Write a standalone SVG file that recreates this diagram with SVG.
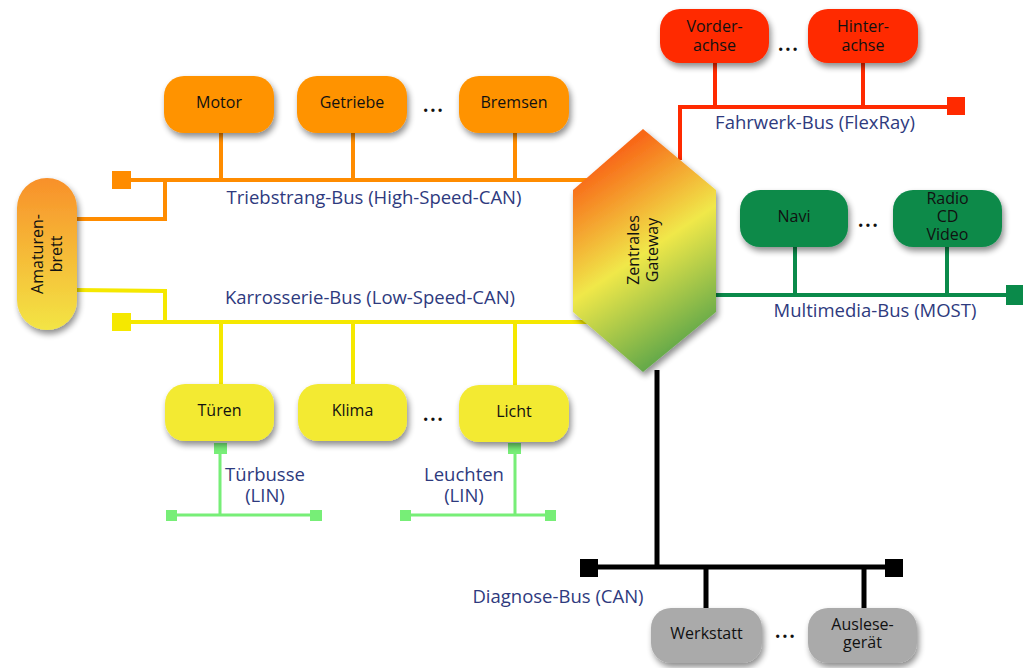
<svg xmlns="http://www.w3.org/2000/svg" width="1023" height="668" viewBox="0 0 1023 668">
<defs>
<filter id="sh" x="-20%" y="-20%" width="150%" height="160%">
<feGaussianBlur in="SourceAlpha" stdDeviation="3"/>
<feOffset dx="2" dy="4" result="b"/>
<feComponentTransfer><feFuncA type="linear" slope="0.45"/></feComponentTransfer>
<feMerge><feMergeNode/><feMergeNode in="SourceGraphic"/></feMerge>
</filter>
<linearGradient id="gAm" x1="0" y1="0" x2="0" y2="1">
<stop offset="0" stop-color="#f8902a"/><stop offset="1" stop-color="#f3e545"/>
</linearGradient>
<linearGradient id="gGw" gradientUnits="userSpaceOnUse" x1="590" y1="170" x2="700" y2="335">
<stop offset="0" stop-color="#f86818"/><stop offset="0.5" stop-color="#f0e84a"/><stop offset="1" stop-color="#62a84a"/>
</linearGradient>
</defs>
<style>
.n{stroke:none;filter:url(#sh)}
.t{font-family:"Open Sans","Liberation Sans",sans-serif;font-size:16px;fill:#111;text-anchor:middle}
.lb{font-family:"Open Sans","Liberation Sans",sans-serif;font-size:18.5px;fill:#2e3a7e;text-anchor:middle}
.d{font-family:"Open Sans","Liberation Sans",sans-serif;font-size:28px;fill:#111;text-anchor:middle}
.or{stroke:#ff8c00;stroke-width:4;fill:none}
.ye{stroke:#f5e800;stroke-width:4;fill:none}
.re{stroke:#ff2a00;stroke-width:4;fill:none}
.gr{stroke:#0a8a4a;stroke-width:4;fill:none}
.bk{stroke:#000;stroke-width:5;fill:none}
.li{stroke:#77ee77;stroke-width:3;fill:none}
</style>
<g id="connectors">
<path class="re" d="M680 160 V107 H950 M715 62 V107 M863 62 V107"/>
<rect x="947" y="97" width="18" height="18" fill="#ff2a00"/>
<path class="or" d="M125 180 H590 M221 132 V180 M353 132 V180 M515 132 V180 M165 180 V219 H76"/>
<rect x="112" y="171" width="19" height="18" fill="#ff8c00"/>
<path class="ye" d="M76 290 L165 291 V322 M125 322 H592 M221 322 V390 M353 322 V390 M515 322 V390"/>
<rect x="112" y="313" width="19" height="18" fill="#f5e800"/>
<path class="gr" d="M715 295 H1015 M795 246 V295 M947 246 V295"/>
<rect x="1006" y="285" width="18" height="20" fill="#0a8a4a"/>
<path class="bk" d="M657 370 V567 M590 567 H895 M706 567 V610 M864 567 V610"/>
<rect x="580" y="559" width="18" height="18" fill="#000"/>
<rect x="885" y="559" width="18" height="18" fill="#000"/>
<path class="li" d="M220 445 V515 M170 515 H316 M515 445 V515 M405 515 H550"/>
<rect x="214" y="443" width="13" height="11" fill="#77ee77"/>
<rect x="166" y="510" width="11" height="11" fill="#77ee77"/>
<rect x="310" y="510" width="12" height="11" fill="#77ee77"/>
<rect x="508" y="443" width="13" height="11" fill="#77ee77"/>
<rect x="400" y="510" width="11" height="11" fill="#77ee77"/>
<rect x="545" y="510" width="11" height="11" fill="#77ee77"/>
</g>
<g id="labels">
<text class="lb" x="815" y="129">Fahrwerk-Bus (FlexRay)</text>
<text class="lb" x="374" y="204">Triebstrang-Bus (High-Speed-CAN)</text>
<text class="lb" x="370" y="304">Karrosserie-Bus (Low-Speed-CAN)</text>
<text class="lb" x="875" y="317">Multimedia-Bus (MOST)</text>
<text class="lb" x="265" y="481">Türbusse</text>
<text class="lb" x="265" y="502">(LIN)</text>
<text class="lb" x="464" y="481">Leuchten</text>
<text class="lb" x="464" y="502">(LIN)</text>
<text class="lb" x="558" y="603">Diagnose-Bus (CAN)</text>
<text class="d" x="788" y="51">…</text>
<text class="d" x="433" y="112">…</text>
<text class="d" x="868" y="227">…</text>
<text class="d" x="433" y="421">…</text>
<text class="d" x="785" y="638">…</text>
</g>
<g id="vorderachse"><rect class="n" x="660" y="9" width="109" height="54" rx="20" fill="#ff2a00"/><text class="t" x="714.5" y="32">Vorder-</text><text class="t" x="714.5" y="51">achse</text></g>
<g id="hinterachse"><rect class="n" x="808" y="9" width="110" height="54" rx="20" fill="#ff2a00"/><text class="t" x="863" y="32">Hinter-</text><text class="t" x="863" y="51">achse</text></g>
<g id="motor"><rect class="n" x="164" y="76" width="110" height="57" rx="20" fill="#ff9300"/><text class="t" x="219" y="108">Motor</text></g>
<g id="getriebe"><rect class="n" x="297" y="76" width="110" height="57" rx="20" fill="#ff9300"/><text class="t" x="352" y="108">Getriebe</text></g>
<g id="bremsen"><rect class="n" x="459" y="76" width="110" height="57" rx="20" fill="#ff9300"/><text class="t" x="514" y="108">Bremsen</text></g>
<g id="amaturenbrett"><rect class="n" x="17" y="178" width="60" height="152" rx="30" fill="url(#gAm)"/><text class="t" transform="translate(47 254) rotate(-90)" x="0" y="-4">Amaturen-</text><text class="t" transform="translate(47 254) rotate(-90)" x="0" y="15">brett</text></g>
<g id="gateway"><polygon class="n" points="643,129 716,190 716,312 643,372 573,312 573,190" fill="url(#gGw)"/><text class="t" transform="translate(643 250) rotate(-90)" x="0" y="-4">Zentrales</text><text class="t" transform="translate(643 250) rotate(-90)" x="0" y="15">Gateway</text></g>
<g id="navi"><rect class="n" x="740" y="190" width="108" height="57" rx="20" fill="#0a8a4a"/><text class="t" x="794" y="222">Navi</text></g>
<g id="radio"><rect class="n" x="893" y="190" width="109" height="57" rx="20" fill="#0a8a4a"/><text class="t" x="947.5" y="204">Radio</text><text class="t" x="947.5" y="222">CD</text><text class="t" x="947.5" y="240">Video</text></g>
<g id="tueren"><rect class="n" x="165" y="384" width="109" height="57" rx="20" fill="#f3ea33"/><text class="t" x="219.5" y="416">Türen</text></g>
<g id="klima"><rect class="n" x="298" y="384" width="109" height="57" rx="20" fill="#f3ea33"/><text class="t" x="352.5" y="416">Klima</text></g>
<g id="licht"><rect class="n" x="459" y="385" width="110" height="57" rx="20" fill="#f3ea33"/><text class="t" x="514" y="417">Licht</text></g>
<g id="werkstatt"><rect class="n" x="651" y="608" width="111" height="55" rx="20" fill="#aaaaaa"/><text class="t" x="706.5" y="639">Werkstatt</text></g>
<g id="auslesegeraet"><rect class="n" x="808" y="608" width="109" height="55" rx="20" fill="#aaaaaa"/><text class="t" x="862.5" y="630">Auslese-</text><text class="t" x="862.5" y="648">gerät</text></g>
</svg>
